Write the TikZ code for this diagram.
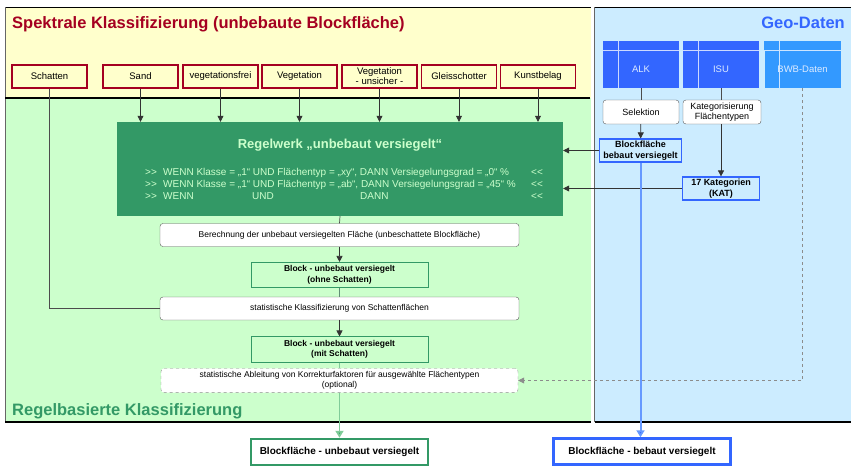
\documentclass[tikz,border=0pt]{standalone}
\usepackage{fontspec}
\setmainfont{Liberation Sans}
\usetikzlibrary{arrows.meta, positioning}
\definecolor{klassred}{HTML}{A50021}
\definecolor{panelyellow}{HTML}{FFFFCC}
\definecolor{panelgreen}{HTML}{CCFFCC}
\definecolor{panelblue}{HTML}{CCECFF}
\definecolor{rulegreen}{HTML}{339966}
\definecolor{geoblue}{HTML}{3366FF}
\definecolor{bwbblue}{HTML}{3399FF}
\definecolor{geotext}{HTML}{DDEBFF}
\definecolor{flowblue}{HTML}{6699FF}
\definecolor{flowgreen}{HTML}{80CC99}

\begin{document}
\begin{tikzpicture}[x=1pt, y=-1pt,
    font=\fontsize{9.5}{11}\selectfont,
    klasse/.style={draw=klassred, line width=1.5pt, fill=panelyellow, minimum width=75pt,
        minimum height=23pt, inner sep=1pt, align=center},
    geo/.style={fill=#1, minimum width=76pt, minimum height=38pt, text=geotext},
    proc/.style={draw=black!65, fill=white, rounded corners=3pt, minimum width=359pt,
        minimum height=23pt, align=center, font=\fontsize{8.5}{10}\selectfont},
    auswahl/.style={draw=black!65, fill=white, rounded corners=3pt, minimum width=76pt,
        minimum height=24pt, align=center, inner sep=1pt, font=\fontsize{9}{10}\selectfont},
    block/.style={draw=rulegreen, line width=1pt, minimum width=177pt, minimum height=24pt,
        align=center, font=\bfseries\fontsize{8.5}{10.5}\selectfont},
    geobox/.style={draw=geoblue, line width=1.2pt, minimum height=23pt, align=center,
        inner sep=1pt, font=\bfseries\fontsize{9}{10.5}\selectfont},
    ergebnis/.style={draw=#1, line width=2.5pt, fill=white, minimum width=177pt,
        minimum height=26pt, font=\bfseries\fontsize{10}{12}\selectfont},
    arrow/.style={-{Triangle[width=6pt,length=6pt]}, line width=0.7pt, draw=black!80},
    link/.style={line width=0.7pt, draw=black!70},
    regel/.style={text=panelgreen, font=\fontsize{10}{11}\selectfont, anchor=base west, inner sep=0pt}
]
\useasboundingbox (0,0) rectangle (851,469);

% Panels
\fill[panelyellow] (5,7) rectangle (591,98);
\fill[panelgreen] (5,98) rectangle (591,422);
\fill[panelblue] (594,7) rectangle (851,422);
\draw[line width=0.6pt] (5,7) -- (591,7) (594,7) -- (851,7);
\draw[black!60, line width=0.5pt] (5,7) -- (5,422) (594,7) -- (594,422);
\draw[line width=2.5pt] (5,98) -- (590,98);
\draw[line width=2pt] (5,422) -- (591,422) (595,422) -- (851,422);

% Panel titles
\node[anchor=base west, inner sep=0pt, text=klassred, font=\bfseries\fontsize{16.5}{18}\selectfont]
    (titelspektral) at (12,28) {Spektrale Klassifizierung (unbebaute Blockfläche)};
\node[anchor=base east, inner sep=0pt, text=geoblue, font=\bfseries\fontsize{16.5}{18}\selectfont]
    (titelgeo) at (845,28) {Geo-Daten};
\node[anchor=base west, inner sep=0pt, text=rulegreen, font=\bfseries\fontsize{16.5}{18}\selectfont]
    (titelregel) at (12,415) {Regelbasierte Klassifizierung};

% Spectral classes
\node[klasse] (schatten) at (49.5,76.5) {Schatten};
\node[klasse] (sand) at (140.5,76.5) {Sand};
\node[klasse] (vegfrei) at (220.5,76.5) {vegetationsfrei};
\node[klasse] (veg) at (299.5,76.5) {Vegetation};
\node[klasse, font=\fontsize{9.5}{10}\selectfont] (vegunsicher) at (379.5,76.5) {Vegetation\\- unsicher -};
\node[klasse] (gleis) at (459,76.5) {Gleisschotter};
\node[klasse] (kunst) at (538,76.5) {Kunstbelag};

% Geo data sources
\node[geo=geoblue] (alk) at (641,69) {ALK};
\node[geo=geoblue] (isu) at (721,69) {ISU};
\node[geo=bwbblue] (bwb) at (802.5,69) {BWB-Daten};
\foreach \g/\c in {alk/geoblue, isu/geoblue, bwb/bwbblue} {
    \fill[\c] (\g.north west) rectangle ([yshift=9pt]\g.north east);
    \draw[white!75!\c, line width=0.6pt] (\g.north west) -- (\g.north east)
        ([xshift=15pt,yshift=9pt]\g.north west) -- ([xshift=15pt]\g.south west);
}
\node[auswahl] (selektion) at (641,112) {Selektion};
\node[auswahl, minimum width=78pt] (kategor) at (722,112) {Kategorisierung\\Flächentypen};
\node[geobox, minimum width=82pt] (bebaut) at (640.5,150.5) {Blockfläche\\bebaut versiegelt};
\node[geobox, minimum width=77pt] (kat) at (721,188.5) {17 Kategorien\\(KAT)};

% Rule set
\node[fill=rulegreen, minimum width=446pt, minimum height=94pt] (regelwerk) at (340,169) {};
\node[anchor=base, text=panelgreen, font=\bfseries\fontsize{13}{15}\selectfont]
    (regeltitel) at (340,148) {Regelwerk „unbebaut versiegelt“};
\foreach \y in {175,187,199} {
    \node[regel] at (145,\y) {>{}>};
    \node[regel] at (531,\y) {<{}<};
}
\node[regel] (regel1) at (163,175) {WENN Klasse = „1“ UND Flächentyp = „xy“, DANN Versiegelungsgrad = „0“ \%};
\node[regel] (regel2) at (163,187) {WENN Klasse = „1“ UND Flächentyp = „ab“, DANN Versiegelungsgrad = „45“ \%};
\node[regel] (regel3wenn) at (163,199) {WENN};
\node[regel] (regel3und) at (252,199) {UND};
\node[regel] (regel3dann) at (360,199) {DANN};

% Processing chain
\node[proc] (berechnung) at (339.5,235) {Berechnung der unbebaut versiegelten Fläche (unbeschattete Blockfläche)};
\node[block] (ohneschatten) at (339.5,275) {Block - unbebaut versiegelt\\(ohne Schatten)};
\node[proc] (statklass) at (339.5,308.5) {statistische Klassifizierung von Schattenflächen};
\node[block] (mitschatten) at (339.5,349.5) {Block - unbebaut versiegelt\\(mit Schatten)};
\node[proc, draw=black!45, dashed, minimum width=357pt, font=\fontsize{8.5}{9.5}\selectfont]
    (ableitung) at (339.5,380.5) {statistische Ableitung von Korrekturfaktoren für ausgewählte Flächentypen\\(optional)};

% Results
\node[ergebnis=rulegreen] (unbebautfinal) at (339.5,452) {Blockfläche - unbebaut versiegelt};
\node[ergebnis=geoblue] (bebautfinal) at (642,451.5) {Blockfläche - bebaut versiegelt};

% Classes into the rule set
\foreach \k in {sand, vegfrei, veg, vegunsicher, gleis, kunst}
    \draw[arrow] (\k.south) -- (\k.south |- regelwerk.north);
\draw[link] (schatten.south) |- (statklass.west);

% Geo data into the rule set
\draw[link] (alk.south) -- (selektion.north);
\draw[link] (isu.south) -- (isu.south |- kategor.north);
\draw[arrow] (selektion) -- (bebaut);
\draw[arrow] (kategor.south -| kat.north) -- (kat.north);
\draw[arrow] (bebaut.west) -- (bebaut.west -| regelwerk.east);
\draw[arrow] (kat.west) -- (kat.west -| regelwerk.east);
\draw[black!45, dashed, line width=0.6pt, -{Triangle[width=6pt,length=6pt]}] (bwb.south) |- (ableitung.east);

% Chain through the green panel
\draw[link] (regelwerk.south) -- (berechnung.north);
\draw[arrow] (berechnung) -- (ohneschatten);
\draw[link, draw=rulegreen!60!black!70] (ohneschatten) -- (statklass);
\draw[arrow] (statklass) -- (mitschatten);
\draw[flowgreen, line width=1.8pt] (mitschatten) -- (ableitung);
\draw[flowgreen, line width=1.8pt, -{Triangle[width=8pt,length=7pt,fill=rulegreen]}] (ableitung) -- (unbebautfinal);
\draw[flowblue, line width=2pt, -{Triangle[width=8pt,length=7pt,fill=geoblue]}] (bebaut.south) -- (bebaut.south |- bebautfinal.north);

\end{tikzpicture}
\end{document}
